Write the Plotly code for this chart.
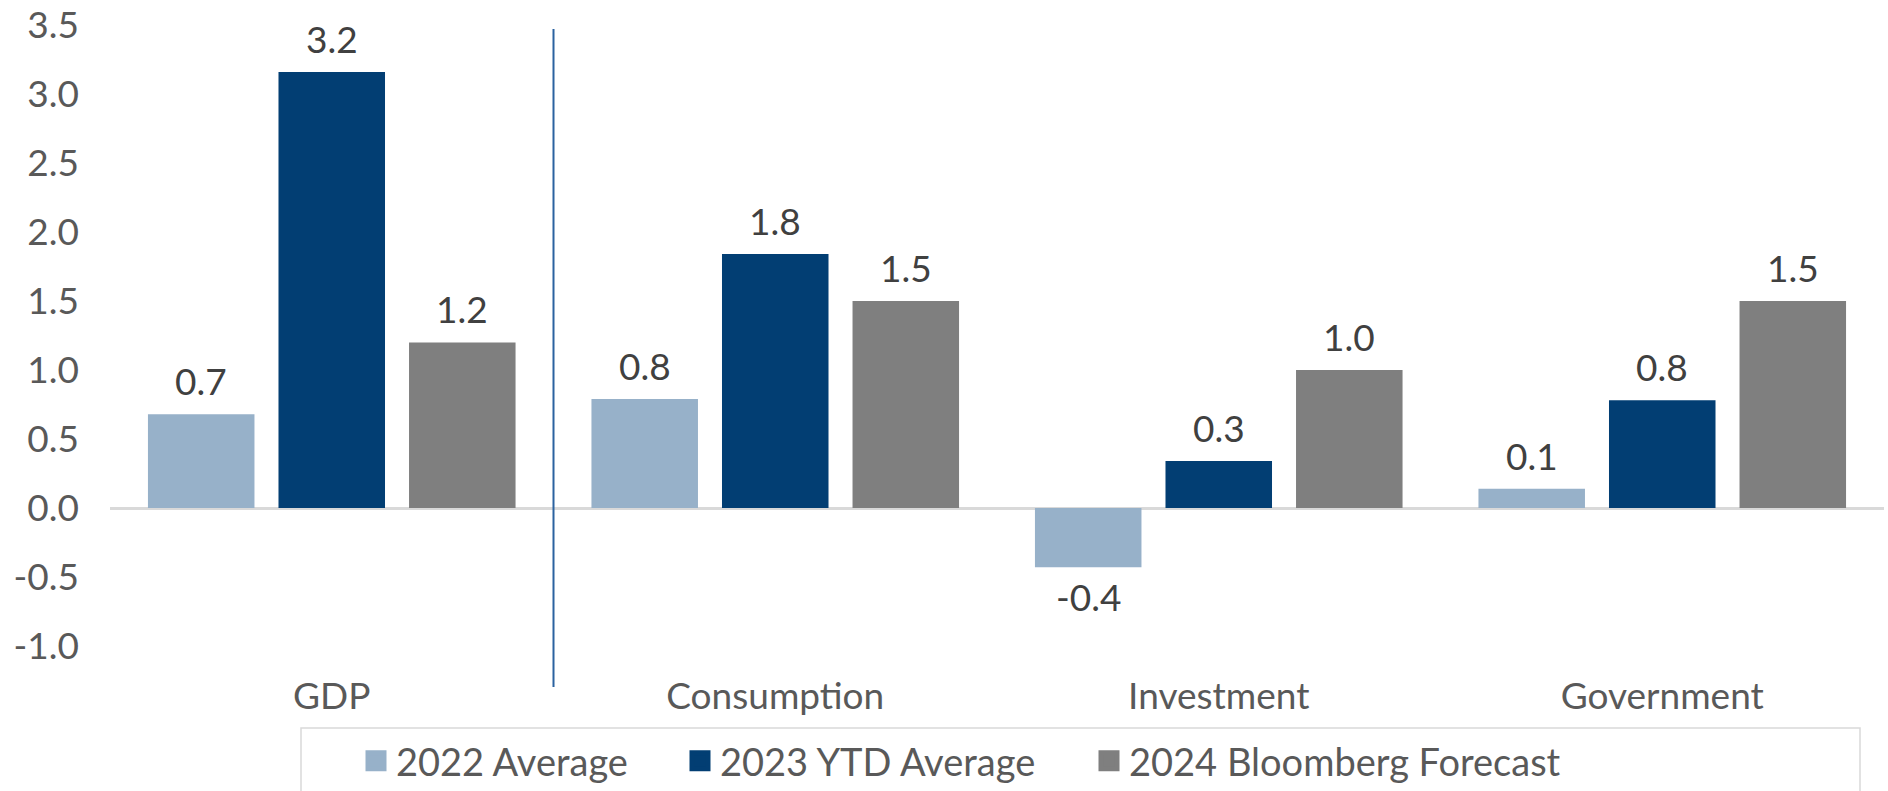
import plotly.graph_objects as go

categories = ["GDP", "Consumption", "Investment", "Government"]
series_names = ["2022 Average", "2023 YTD Average", "2024 Bloomberg Forecast"]
avg_2022 = [0.68, 0.79, -0.43, 0.14]
ytd_2023 = [3.16, 1.84, 0.34, 0.78]
fcst_2024 = [1.20, 1.50, 1.00, 1.50]
y_ticks = [-1.0, -0.5, 0.0, 0.5, 1.0, 1.5, 2.0, 2.5, 3.0, 3.5]

colors = ["#97B1C9", "#023E73", "#7F7F7F"]
FONT = "Lato"
FS = 37
FS_LEG = 38

# page body margin is removed by the post script, so page pixels == figure pixels
W, H = 1888, 791
ML, MR, MT, MB = 110, 4, 25, 145
plot_w = W - ML - MR
plot_h = H - MT - MB
bargap = 0.117
slot = plot_w / len(categories) * (1 - bargap) / 3

def px_x(p):
    return (p - ML) / plot_w

def px_y(p):
    return (H - MB - p) / plot_h

fig = go.Figure()
all_series = [avg_2022, ytd_2023, fcst_2024]
legend_ids = ["legend", "legend2", "legend3"]
for name, vals, col in zip(series_names, all_series, colors):
    fig.add_trace(go.Bar(
        x=categories, y=vals, name=name, showlegend=False,
        marker=dict(color=col, line=dict(width=0)),
    ))
# legend swatches (legend-only entries with larger square symbols)
for name, col, lid in zip(series_names, colors, legend_ids):
    fig.add_trace(go.Scatter(
        x=[None], y=[None], name=name, mode="markers", legend=lid,
        marker=dict(symbol="square", size=16, color=col, line=dict(color=col, width=5)),
    ))

# data labels
for i, vals in enumerate(all_series):
    for cat, v in zip(categories, vals):
        fig.add_annotation(
            x=cat, y=v, xref="x", yref="y",
            text=f"{v:.1f}", showarrow=False,
            xshift=(i - 1) * slot,
            yanchor="bottom" if v >= 0 else "top",
            yshift=9 if v >= 0 else -5,
            font=dict(family=FONT, size=FS, color="#404040"),
        )

# divider line between GDP and components
fig.add_shape(type="line", xref="x", yref="paper", x0=0.5, x1=0.5,
              y0=px_y(687), y1=px_y(29), line=dict(color="#2B62A0", width=2))

# legend frame
fig.add_shape(type="rect", xref="paper", yref="paper",
              x0=px_x(301), x1=px_x(1860), y0=px_y(728), y1=px_y(800),
              line=dict(color="#D9D9D9", width=1.5), fillcolor="rgba(0,0,0,0)")

leg_common = dict(orientation="h", xanchor="left", yanchor="middle",
                  font=dict(family=FONT, size=FS_LEG, color="#595959"),
                  bgcolor="rgba(0,0,0,0)", borderwidth=0, itemclick=False,
                  itemdoubleclick=False)
swatch_centers = [376, 700, 1109]
legends = {}
for lid, cx in zip(legend_ids, swatch_centers):
    legends[lid] = dict(x=px_x(cx - 20), y=px_y(761), **leg_common)

fig.update_layout(
    width=W, height=H,
    margin=dict(l=ML, r=MR, t=MT, b=MB, autoexpand=False),
    paper_bgcolor="white", plot_bgcolor="white",
    barmode="group", bargap=bargap, bargroupgap=0.184,
    font=dict(family=FONT, size=FS, color="#595959"),
    showlegend=True,
    **legends,
    xaxis=dict(showgrid=False, showline=False, ticks="", ticklabelstandoff=25,
               ticklabeloverflow="allow",
               tickfont=dict(family=FONT, size=FS, color="#595959")),
    yaxis=dict(range=[-1.0, 3.5], tickvals=y_ticks, ticktext=[f"{t:.1f}" for t in y_ticks],
               showgrid=False, showline=False, ticks="", ticklabelstandoff=30,
               ticklabeloverflow="allow",
               zeroline=True, zerolinecolor="#D9D9D9", zerolinewidth=2.5,
               tickfont=dict(family=FONT, size=FS, color="#595959")),
)

fig.write_html("out.html",
               config={"displayModeBar": False},
               post_script="document.body.style.margin='0';document.body.style.overflow='hidden';")
